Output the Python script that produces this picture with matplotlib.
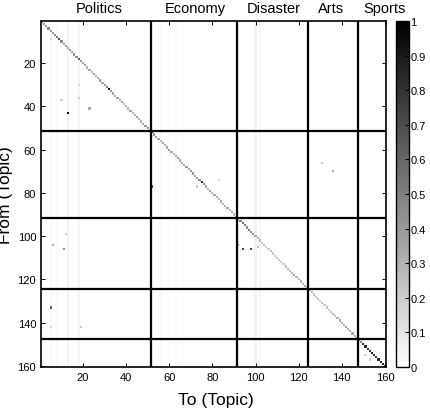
import matplotlib
matplotlib.use('Agg')
import matplotlib.pyplot as plt
import numpy as np

plt.rcParams['font.family'] = ['Liberation Sans', 'DejaVu Sans']

n_topics = 160
groups = ['Politics', 'Economy', 'Disaster', 'Arts', 'Sports']
group_sizes = [51, 40, 33, 23, 13]

# self transition (diagonal) per topic
diag_vals = [0.45, 0.4, 0.4, 0.45, 0.4, 0.4, 0.45, 0.5, 0.7, 0.45,
             0.4, 0.4, 0.35, 0.4, 0.35, 0.4, 0.45, 0.65, 0.4, 0.35,
             0.35, 0.3, 0.35, 0.3, 0.35, 0.3, 0.35, 0.4, 0.35, 0.4,
             0.5, 0.9, 0.4, 0.35, 0.3, 0.35, 0.3, 0.35, 0.3, 0.3,
             0.3, 0.35, 0.3, 0.3, 0.35, 0.3, 0.3, 0.35, 0.4, 0.4,
             0.5,
             0.85, 0.4, 0.35, 0.35, 0.3, 0.35, 0.3, 0.35, 0.4, 0.35,
             0.3, 0.35, 0.4, 0.35, 0.3, 0.35, 0.4, 0.35, 0.45, 0.4,
             0.35, 0.4, 0.45, 0.85, 0.45, 0.35, 0.3, 0.35, 0.3, 0.35,
             0.3, 0.3, 0.35, 0.3, 0.3, 0.35, 0.3, 0.35, 0.3, 0.4,
             0.4, 0.5, 0.55, 0.5, 0.45, 0.5, 0.45, 0.4, 0.35, 0.3,
             0.3, 0.25, 0.25, 0.2, 0.2, 0.25, 0.2, 0.2, 0.25, 0.2,
             0.2, 0.2, 0.25, 0.3, 0.25, 0.3, 0.35, 0.3, 0.25, 0.3,
             0.3, 0.35, 0.4,
             0.4, 0.25, 0.25, 0.2, 0.25, 0.2, 0.25, 0.2, 0.25, 0.2,
             0.25, 0.3, 0.25, 0.3, 0.35, 0.3, 0.3, 0.35, 0.3, 0.35,
             0.35, 0.3, 0.4,
             0.5, 0.45, 0.8, 0.85, 0.75, 0.8, 0.85, 0.8, 0.75, 0.8,
             0.85, 0.85, 0.8]

# faint "popular target" columns
stripe_cols = [5, 8, 13, 18, 56, 63, 92, 100, 102, 148]
stripe_vals = [0.02, 0.02, 0.05, 0.04, 0.02, 0.02, 0.04, 0.05, 0.04, 0.04]

# scattered off-diagonal transitions (from, to, value)
off_from = [43, 41, 37, 36, 77, 104, 106, 99, 104, 106, 106, 105, 66, 70,
            133, 142, 142, 157, 155, 74, 77, 9, 30]
off_to = [13, 23, 10, 18, 52, 6, 11, 12, 92, 94, 98, 101, 131, 136,
          5, 19, 5, 153, 151, 83, 73, 5, 18]
off_vals = [0.95, 0.35, 0.2, 0.2, 0.7, 0.3, 0.4, 0.2, 0.5, 0.7, 0.7, 0.3, 0.2, 0.3,
            0.6, 0.2, 0.15, 0.2, 0.15, 0.15, 0.2, 0.15, 0.15]

M = np.zeros((n_topics, n_topics))
for c, v in zip(stripe_cols, stripe_vals):
    M[:, c - 1] = v
for i, v in enumerate(diag_vals):
    M[i, i] = v
for r, c, v in zip(off_from, off_to, off_vals):
    M[r - 1, c - 1] = v

fig = plt.figure(figsize=(4.31, 4.10), dpi=100)
ax = fig.add_axes([41 / 431, 1 - 368 / 410, 345 / 431, 346 / 410])
cax = fig.add_axes([396 / 431, 1 - 368 / 410, 13 / 431, 346 / 410])

im = ax.imshow(M, cmap='gray_r', vmin=0, vmax=1, aspect='auto',
               extent=[0.5, n_topics + 0.5, n_topics + 0.5, 0.5],
               interpolation='nearest')

bounds = np.cumsum(group_sizes)[:-1] + 0.5
for b in bounds:
    ax.axvline(b, color='black', lw=1.6)
    ax.axhline(b, color='black', lw=1.6)

ax.set_xticks(np.arange(20, 161, 20))
ax.set_yticks(np.arange(20, 161, 20))
ax.tick_params(direction='in', top=True, right=True, labelsize=8, length=3, width=0.7)
for s in ax.spines.values():
    s.set_linewidth(1.2)

fig.text(216 / 431, 1 - 401 / 410, 'To (Topic)', ha='center', va='center', fontsize=12.5)
fig.text(6 / 431, 1 - 195 / 410, 'From (Topic)', ha='center', va='center',
         rotation=90, fontsize=12.5)

label_x = [99.5, 195, 274, 331.5, 385]
for g, x in zip(groups, label_x):
    fig.text(x / 431, 1 - 13 / 410, g, ha='center', va='baseline', fontsize=10.5)

cb = fig.colorbar(im, cax=cax, ticks=np.arange(0, 1.01, 0.1))
cb.ax.set_yticklabels(['0', '0.1', '0.2', '0.3', '0.4', '0.5', '0.6', '0.7', '0.8', '0.9', '1'])
cb.ax.tick_params(direction='in', labelsize=8, length=3, width=0.7, pad=1)
cb.outline.set_linewidth(1.0)

fig.savefig('out.png', dpi=100)
